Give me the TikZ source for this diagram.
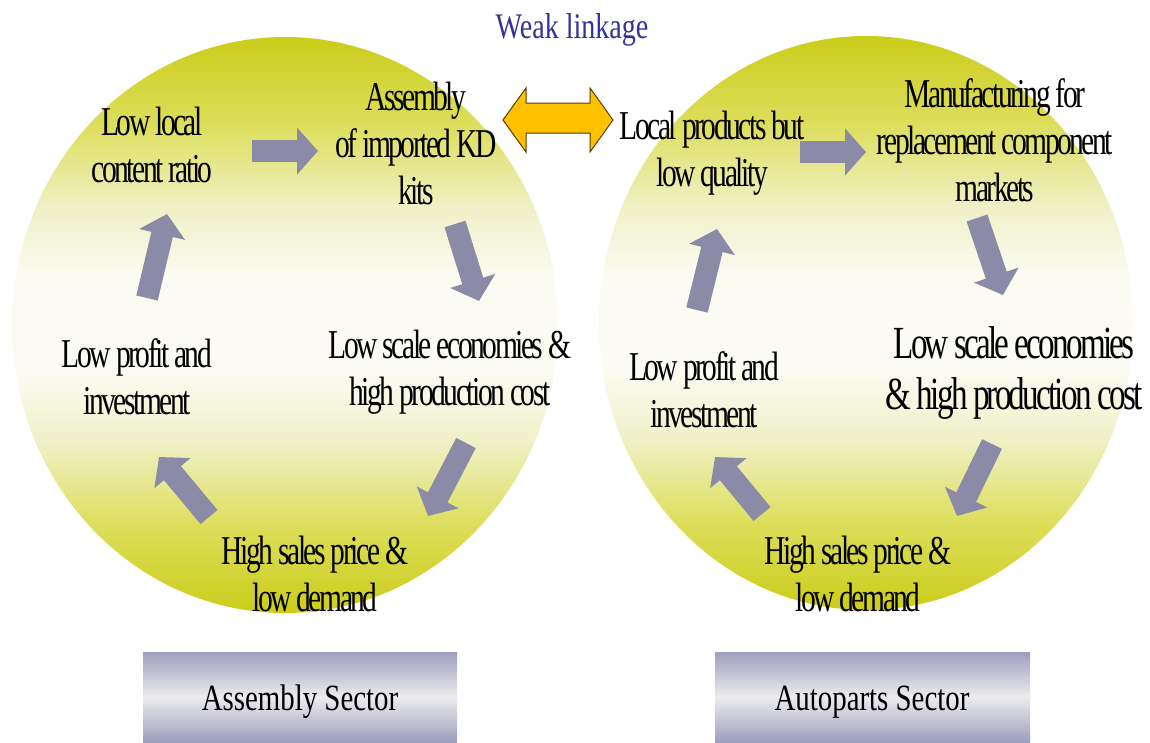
\documentclass[tikz,border=0pt]{standalone}
\usepackage{fontspec}
\setmainfont{Liberation Serif}
\newfontfamily\condfont[FakeStretch=0.72,LetterSpace=-6]{Liberation Serif}
\newfontfamily\semifont[FakeStretch=0.78]{Liberation Serif}
\usetikzlibrary{arrows.meta}
\definecolor{olivec}{RGB}{204,204,26}
\definecolor{olivemid}{RGB}{220,222,90}
\definecolor{olivelt}{RGB}{240,241,200}
\definecolor{paleol}{RGB}{251,251,243}
\definecolor{grayblue}{RGB}{139,139,168}
\definecolor{lav}{RGB}{158,158,190}
\definecolor{lightg}{RGB}{236,236,236}
\definecolor{linkorange}{RGB}{255,192,0}
\definecolor{linkedge}{RGB}{90,60,0}
\definecolor{weakblue}{RGB}{51,51,150}
\pgfdeclareverticalshading{bubbleshade}{100bp}{%
  color(0bp)=(olivec); color(25bp)=(olivec); color(32.5bp)=(olivemid);
  color(40bp)=(olivelt); color(46bp)=(paleol); color(54bp)=(paleol);
  color(60bp)=(olivelt); color(67.5bp)=(olivemid); color(75bp)=(olivec);
  color(100bp)=(olivec)}
\tikzset{
  lbl/.style={font=\condfont\fontsize{41}{47}\selectfont, align=center, inner sep=0pt, text=black},
  biglbl/.style={lbl, font=\condfont\fontsize{46}{51}\selectfont},
  sectorlbl/.style={font=\semifont\fontsize{37}{42}\selectfont, inner sep=0pt, text=black},
  garrow/.style={draw=grayblue, line width=22pt, -{Triangle[length=21pt,width=46pt]}},
  bubble/.style={shading=bubbleshade},
  sectorbox/.style={top color=lav, bottom color=lav, middle color=lightg},
}
\begin{document}
\begin{tikzpicture}[x=1pt,y=-1pt]
\useasboundingbox (0,0) rectangle (1150,742);
% bubbles
\path[bubble] (285,325) ellipse [x radius=273, y radius=288];
\path[bubble] (866,323) ellipse [x radius=267, y radius=287];
% sector boxes
\path[sectorbox] (143,652) rectangle (457,742);
\path[sectorbox] (715,652) rectangle (1030,742);
\node[sectorlbl] (secA) at (300,702) {Assembly Sector};
\node[sectorlbl] (secB) at (872,702) {Autoparts Sector};
% weak linkage
\node[sectorlbl, text=weakblue, font=\semifont\fontsize{36}{40}\selectfont] (weak) at (572,30) {Weak linkage};
\draw[fill=linkorange, draw=linkedge, line width=1pt, line join=miter]
  (503,120) -- (526,88) -- (526,103) -- (590,103) -- (590,88) -- (613,120)
  -- (590,152) -- (590,133) -- (526,133) -- (526,152) -- cycle;
% left texts
\node[lbl] (a1) at (152,145) {Low local\\content ratio};
\node[lbl] (a2) at (416,143) {Assembly\\of imported KD\\kits};
\node[lbl] (a3) at (450,372) {Low scale economies \&\\high production cost};
\node[lbl] (a4) at (315,574) {High sales price \&\\low demand};
\node[lbl] (a5) at (137,377) {Low profit and\\investment};
% right texts
\node[lbl] (b1) at (712,153) {Local products but\\low quality};
\node[lbl] (b2) at (995,140) {Manufacturing for\\replacement component\\markets};
\node[biglbl] (b3) at (1014,373) {Low scale economies\\\& high production cost};
\node[lbl] (b4) at (858,574) {High sales price \&\\low demand};
\node[lbl] (b5) at (704,390) {Low profit and\\investment};
% arrow coordinates left
\coordinate (la1s) at (252,151); \coordinate (la1e) at (318,151);
\coordinate (la2s) at (455,224); \coordinate (la2e) at (479,301);
\coordinate (la3s) at (466,443); \coordinate (la3e) at (428,516);
\coordinate (la4s) at (209,517); \coordinate (la4e) at (159,457);
\coordinate (la5s) at (147,298); \coordinate (la5e) at (167,214);
% arrow coordinates right
\coordinate (ra1s) at (800,152); \coordinate (ra1e) at (866,152);
\coordinate (ra2s) at (977,218); \coordinate (ra2e) at (1003,295);
\coordinate (ra3s) at (992,444); \coordinate (ra3e) at (957,516);
\coordinate (ra4s) at (762,514); \coordinate (ra4e) at (715,457);
\coordinate (ra5s) at (697,310); \coordinate (ra5e) at (717,229);
\foreach \s in {la1,la2,la3,la4,la5,ra1,ra2,ra3,ra4,ra5}
  \draw[garrow] (\s s) -- (\s e);
\end{tikzpicture}
\end{document}
